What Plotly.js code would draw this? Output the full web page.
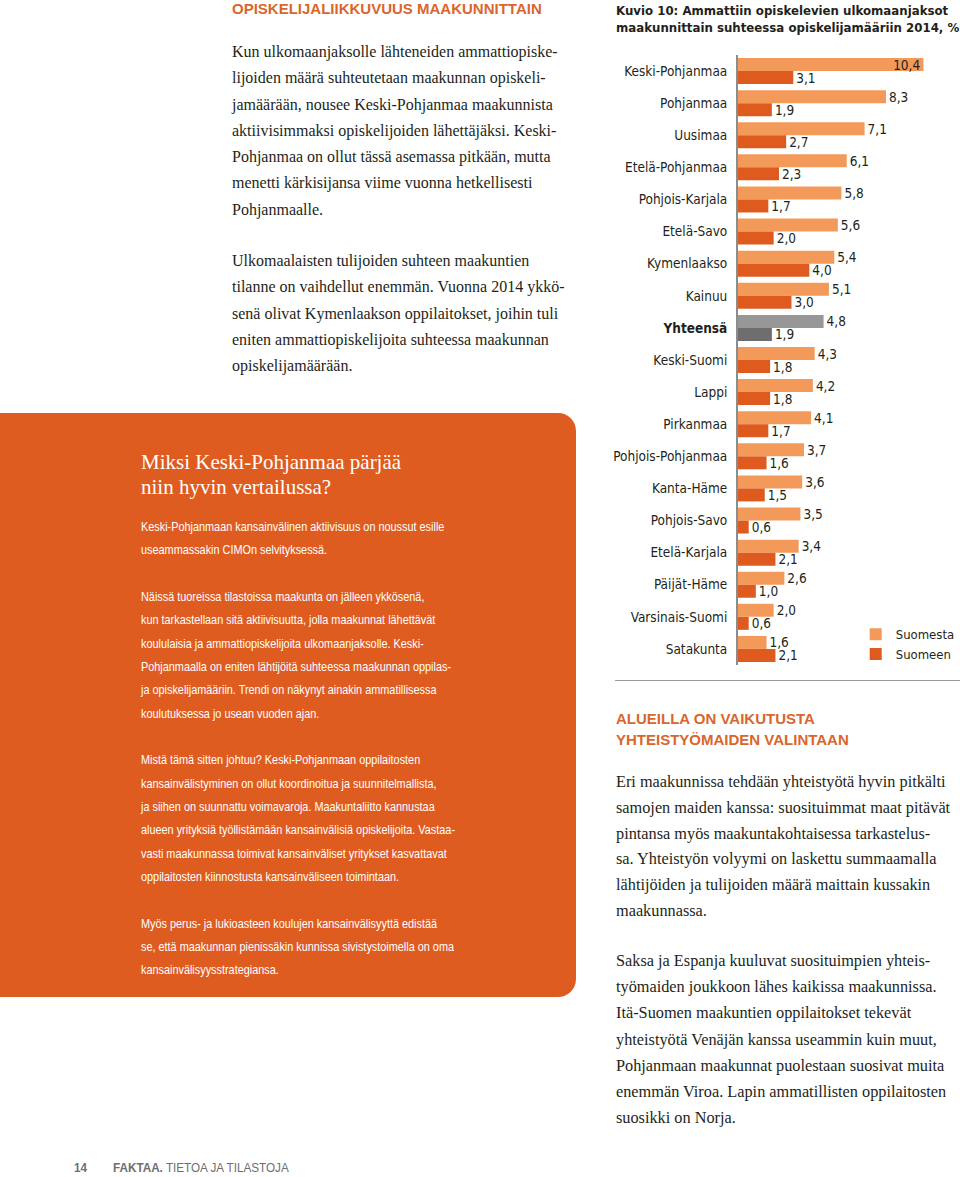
<!DOCTYPE html>
<html>
<head>
<meta charset="utf-8">
<script src="https://cdn.plot.ly/plotly-3.0.1.min.js"></script>
<style>
  html, body { margin:0; padding:0; background:#fff; }
  body { width:960px; height:1177px; position:relative; overflow:hidden; }
  .abs { position:absolute; white-space:nowrap; }
  .serif { font-family:"Liberation Serif", "DejaVu Serif", serif; color:#231f20; font-size:16px; }
  .head { font-family:"Liberation Sans", Arial, sans-serif; font-weight:bold; color:#d9662c; font-size:15px; line-height:21px; }
  .sans { font-family:"Liberation Sans", Arial, sans-serif; transform-origin:0 0; }
  #box { position:absolute; left:0; top:413px; width:576px; height:584px; background:#de5c20; border-radius:0 18px 18px 0; }
  #chart { position:absolute; left:600px; top:0; width:360px; height:690px; }
</style>
</head>
<body>
<div class="abs head" style="left:232px; top:-2px;">OPISKELIJALIIKKUVUUS MAAKUNNITTAIN</div>
<div class="abs serif" style="left:232px; top:39px; line-height:26.3px;">Kun ulkomaanjaksolle lähteneiden ammattiopiske-<br>lijoiden määrä suhteutetaan maakunnan opiskeli-<br>jamäärään, nousee Keski-Pohjanmaa maakunnista<br>aktiivisimmaksi opiskelijoiden lähettäjäksi. Keski-<br>Pohjanmaa on ollut tässä asemassa pitkään, mutta<br>menetti kärkisijansa viime vuonna hetkellisesti<br>Pohjanmaalle.</div>
<div class="abs serif" style="left:232px; top:248px; line-height:26.3px;">Ulkomaalaisten tulijoiden suhteen maakuntien<br>tilanne on vaihdellut enemmän. Vuonna 2014 ykkö-<br>senä olivat Kymenlaakson oppilaitokset, joihin tuli<br>eniten ammattiopiskelijoita suhteessa maakunnan<br>opiskelijamäärään.</div>

<div id="box"></div>
<div class="abs" style="left:141px; top:450px; font-family:'Liberation Serif','DejaVu Serif',serif; font-size:21px; line-height:25px; color:#fff;">Miksi Keski-Pohjanmaa pärjää<br>niin hyvin vertailussa?</div>
<div id="boxtext" class="abs sans" data-target="314" style="left:141px; top:515px; font-size:13px; line-height:23.33px; color:#fff;">Keski-Pohjanmaan kansainvälinen aktiivisuus on noussut esille<br>useammassakin CIMOn selvityksessä.<br><br>Näissä tuoreissa tilastoissa maakunta on jälleen ykkösenä,<br>kun tarkastellaan sitä aktiivisuutta, jolla maakunnat lähettävät<br>koululaisia ja ammattiopiskelijoita ulkomaanjaksolle. Keski-<br>Pohjanmaalla on eniten lähtijöitä suhteessa maakunnan oppilas-<br>ja opiskelijamääriin. Trendi on näkynyt ainakin ammatillisessa<br>koulutuksessa jo usean vuoden ajan.<br><br>Mistä tämä sitten johtuu? Keski-Pohjanmaan oppilaitosten<br>kansainvälistyminen on ollut koordinoitua ja suunnitelmallista,<br>ja siihen on suunnattu voimavaroja. Maakuntaliitto kannustaa<br>alueen yrityksiä työllistämään kansainvälisiä opiskelijoita. Vastaa-<br>vasti maakunnassa toimivat kansainväliset yritykset kasvattavat<br>oppilaitosten kiinnostusta kansainväliseen toimintaan.<br><br>Myös perus- ja lukioasteen koulujen kansainvälisyyttä edistää<br>se, että maakunnan pienissäkin kunnissa sivistystoimella on oma<br>kansainvälisyysstrategiansa.</div>

<div id="chart"></div>
<div class="abs" style="left:615px; top:680px; width:345px; height:0; border-top:1.5px solid #9a9a9a;"></div>

<div class="abs head" style="left:616px; top:708px;">ALUEILLA ON VAIKUTUSTA<br>YHTEISTYÖMAIDEN VALINTAAN</div>
<div class="abs serif" style="left:616px; top:769px; line-height:25.8px; font-size:16.3px;">Eri maakunnissa tehdään yhteistyötä hyvin pitkälti<br>samojen maiden kanssa: suosituimmat maat pitävät<br>pintansa myös maakuntakohtaisessa tarkastelus-<br>sa. Yhteistyön volyymi on laskettu summaamalla<br>lähtijöiden ja tulijoiden määrä maittain kussakin<br>maakunnassa.</div>
<div class="abs serif" style="left:616px; top:948px; line-height:26.2px; font-size:16.3px;">Saksa ja Espanja kuuluvat suosituimpien yhteis-<br>työmaiden joukkoon lähes kaikissa maakunnissa.<br>Itä-Suomen maakuntien oppilaitokset tekevät<br>yhteistyötä Venäjän kanssa useammin kuin muut,<br>Pohjanmaan maakunnat puolestaan suosivat muita<br>enemmän Viroa. Lapin ammatillisten oppilaitosten<br>suosikki on Norja.</div>

<div class="abs sans" style="left:74px; top:1159px; font-size:13px; line-height:18px; color:#6d6e70; transform:scaleX(0.9);"><b>14</b></div>
<div class="abs sans" style="left:113px; top:1159px; font-size:13px; line-height:18px; color:#6d6e70; transform:scaleX(0.9);"><b>FAKTAA.</b> TIETOA JA TILASTOJA</div>

<script>
const categories = ["Keski-Pohjanmaa","Pohjanmaa","Uusimaa","Etelä-Pohjanmaa","Pohjois-Karjala","Etelä-Savo","Kymenlaakso","Kainuu","Yhteensä","Keski-Suomi","Lappi","Pirkanmaa","Pohjois-Pohjanmaa","Kanta-Häme","Pohjois-Savo","Etelä-Karjala","Päijät-Häme","Varsinais-Suomi","Satakunta"];
const suomesta = [10.4, 8.3, 7.1, 6.1, 5.8, 5.6, 5.4, 5.1, 4.8, 4.3, 4.2, 4.1, 3.7, 3.6, 3.5, 3.4, 2.6, 2.0, 1.6];
const suomeen  = [3.1, 1.9, 2.7, 2.3, 1.7, 2.0, 4.0, 3.0, 1.9, 1.8, 1.8, 1.7, 1.6, 1.5, 0.6, 2.1, 1.0, 0.6, 2.1];
const seriesNames = ["Suomesta", "Suomeen"];
const chartTitle = "Kuvio 10: Ammattiin opiskelevien ulkomaanjaksot<br>maakunnittain suhteessa opiskelijamääriin 2014, %";
const totalLabel = "Yhteensä";

// fit the condensed box text to its column width
const bt = document.getElementById("boxtext");
const w = bt.getBoundingClientRect().width;
bt.style.transform = "scaleX(" + (Number(bt.dataset.target) / w) + ")";

const NARROW = "DejaVu Sans Condensed, Liberation Sans Narrow, sans-serif";
const lightC = "#f39a5a", darkC = "#de5a1f", lightG = "#979797", darkG = "#6e6e6e";

const colA = categories.map(c => c === totalLabel ? lightG : lightC);
const colB = categories.map(c => c === totalLabel ? darkG : darkC);
const maxA = Math.max(...suomesta);
const posA = suomesta.map(v => v === maxA ? "inside" : "outside");
const tf = {family:NARROW, size:13.5, color:"#231f20"};

const traces = [
  {type:"bar", orientation:"h", name:seriesNames[0], y:categories, x:suomesta,
   marker:{color:colA}, texttemplate:"%{x:.1f}", textposition:posA, insidetextanchor:"end",
   textfont:tf, insidetextfont:tf, outsidetextfont:tf,
   constraintext:"none", cliponaxis:false},
  {type:"bar", orientation:"h", name:seriesNames[1], y:categories, x:suomeen,
   marker:{color:colB}, texttemplate:"%{x:.1f}", textposition:"outside",
   textfont:tf, outsidetextfont:tf,
   constraintext:"none", cliponaxis:false}
];

const layout = {
  width:360, height:690,
  margin:{l:138, r:0, t:55, b:25},
  paper_bgcolor:"rgba(0,0,0,0)", plot_bgcolor:"rgba(0,0,0,0)",
  separators:", ",
  barmode:"group", bargap:0.19, bargroupgap:0,
  font:{family:NARROW, size:13.5, color:"#231f20"},
  title:{text:chartTitle, font:{family:NARROW, size:13.1, color:"#231f20", weight:"bold"},
         xref:"container", x:16/360, xanchor:"left", yref:"container", y:0.978, yanchor:"top"},
  xaxis:{range:[0, 222/20.3], showgrid:false, zeroline:false, showline:false, showticklabels:false, ticks:"", fixedrange:true},
  yaxis:{type:"category", autorange:"reversed", showgrid:false, zeroline:false,
         showline:true, linecolor:"#8c8c8c", linewidth:2, ticks:"", ticklabelstandoff:6,
         tickvals:categories, ticktext:categories.map(c => c === totalLabel ? "<b>"+c+"</b>" : c),
         tickfont:{family:NARROW, size:13.5, color:"#231f20"}},
  showlegend:true,
  legend:{x:(872-738)/222, xanchor:"left", y:0.075, yanchor:"top", traceorder:"normal",
          bgcolor:"rgba(0,0,0,0)", font:{family:NARROW, size:13, color:"#231f20"}, tracegroupgap:0}
};
Plotly.newPlot("chart", traces, layout, {staticPlot:true, displayModeBar:false});
</script>
</body>
</html>
